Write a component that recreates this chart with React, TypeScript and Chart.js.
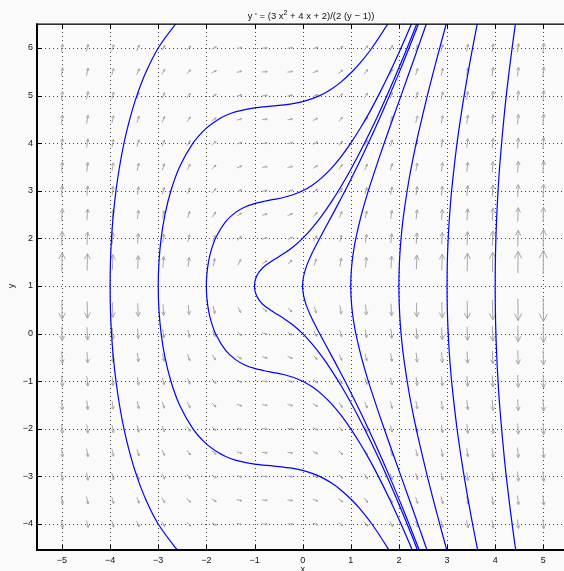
import React, { useEffect, useRef } from "react";
import { Chart, registerables } from "chart.js";
Chart.register(...registerables);

// axis ticks and ranges
const X_TICKS = [-5, -4, -3, -2, -1, 0, 1, 2, 3, 4, 5];
const Y_TICKS = [-4, -3, -2, -1, 0, 1, 2, 3, 4, 5, 6];
const X_MIN = -5.519;
const X_MAX = 5.43;
const Y_MIN = -4.546;
const Y_MAX = 6.504;

// direction-field grid (20 columns x 21 rows)
const FIELD_X = [-5, -4.474, -3.947, -3.421, -2.895, -2.368, -1.842, -1.316, -0.789, -0.263,
  0.263, 0.789, 1.316, 1.842, 2.368, 2.895, 3.421, 3.947, 4.474, 5];
const FIELD_Y = [-4, -3.5, -3, -2.5, -2, -1.5, -1, -0.5, 0, 0.5, 1, 1.5, 2, 2.5, 3, 3.5, 4, 4.5, 5, 5.5, 6];

// the equation in the title: y' = (3x^2 + 4x + 2) / (2 (y - 1))
const slope = (x: number, y: number) => (3 * x * x + 4 * x + 2) / (2 * (y - 1));

// solution curves: x positions and |y - 1| (each curve is symmetric about y = 1)
const CURVE_A_X = [-4, -3.993, -3.971, -3.933, -3.878, -3.805, -3.712, -3.593, -3.444, -3.252, -3.0, -2.641, -2.5];
const CURVE_A_H = [0, 0.5, 1, 1.5, 2, 2.5, 3, 3.5, 4, 4.5, 5, 5.5, 5.646];

const CURVE_B_X = [-3, -2.985, -2.94, -2.86, -2.737, -2.557, -2.278, -2, -1.754, -1.6, -1.4, -1, -0.6, -0.2, 0, 0.353, 0.6, 0.8, 1.027, 1.2, 1.439, 1.765, 1.9];
const CURVE_B_H = [0, 0.5, 1, 1.5, 2, 2.5, 3, 3.317, 3.5, 3.581, 3.657, 3.742, 3.782, 3.83, 3.873, 4, 4.14, 4.289, 4.5, 4.691, 5, 5.5, 5.734];

const CURVE_C_X = [-2, -1.99, -1.957, -1.9, -1.8, -1.6, -1.4, -1.2, -1, -0.8, -0.6, -0.4, -0.2, 0, 0.2, 0.4, 0.6, 0.8, 1, 1.2, 1.4, 1.6, 1.8, 2, 2.2, 2.4];
const CURVE_C_H = [0, 0.244, 0.5, 0.749, 1.024, 1.351, 1.541, 1.659, 1.732, 1.78, 1.818, 1.859, 1.916, 2, 2.118, 2.277, 2.477, 2.719, 3, 3.318, 3.669, 4.052, 4.462, 4.899, 5.36, 5.843];

const CURVE_D_X = [-1, -0.99, -0.975, -0.95, -0.9, -0.8, -0.6, -0.4, -0.2, 0, 0.2, 0.4, 0.6, 0.8, 1, 1.2, 1.4, 1.6, 1.8, 2, 2.2, 2.4];
const CURVE_D_H = [0, 0.0995, 0.155, 0.218, 0.302, 0.41, 0.551, 0.675, 0.82, 1, 1.22, 1.478, 1.771, 2.096, 2.449, 2.83, 3.235, 3.663, 4.112, 4.583, 5.072, 5.581];

const CURVE_E_X = [0, 0.005, 0.02, 0.05, 0.1, 0.2, 0.3, 0.4, 0.6, 0.8, 1, 1.2, 1.4, 1.6, 1.8, 2, 2.2, 2.4, 2.45];
const CURVE_E_H = [0, 0.1003, 0.202, 0.324, 0.47, 0.699, 0.898, 1.088, 1.462, 1.842, 2.236, 2.647, 3.076, 3.524, 3.989, 4.472, 4.973, 5.49, 5.622];

const CURVE_F_X = [1, 1.002, 1.01, 1.03, 1.06, 1.1, 1.2, 1.3, 1.4, 1.6, 1.8, 2, 2.2, 2.4, 2.6];
const CURVE_F_H = [0, 0.134, 0.301, 0.524, 0.747, 0.975, 1.417, 1.782, 2.113, 2.723, 3.303, 3.873, 4.442, 5.014, 5.594];

const CURVE_G_X = [2, 2.002, 2.01, 2.03, 2.06, 2.1, 2.2, 2.3, 2.4, 2.6, 2.8, 3.0];
const CURVE_G_H = [0, 0.21, 0.47, 0.817, 1.161, 1.51, 2.174, 2.711, 3.185, 4.037, 4.82, 5.568];

const CURVE_H_X = [3, 3.002, 3.01, 3.03, 3.06, 3.1, 3.2, 3.3, 3.4, 3.5, 3.6, 3.7];
const CURVE_H_H = [0, 0.286, 0.641, 1.113, 1.581, 2.052, 2.941, 3.649, 4.269, 4.835, 5.364, 5.868];

const CURVE_I_X = [4, 4.002, 4.01, 4.03, 4.06, 4.1, 4.2, 4.3, 4.4, 4.5];
const CURVE_I_H = [0, 0.363, 0.813, 1.412, 2.003, 2.596, 3.711, 4.592, 5.358, 6.052];

const CURVES: [number[], number[]][] = [
  [CURVE_A_X, CURVE_A_H], [CURVE_B_X, CURVE_B_H], [CURVE_C_X, CURVE_C_H],
  [CURVE_D_X, CURVE_D_H], [CURVE_E_X, CURVE_E_H], [CURVE_F_X, CURVE_F_H],
  [CURVE_G_X, CURVE_G_H], [CURVE_H_X, CURVE_H_H], [CURVE_I_X, CURVE_I_H],
];

const TITLE_A = "y ' = (3 x";
const TITLE_SUP = "2";
const TITLE_B = " + 4 x + 2)/(2 (y \u2212 1))";

const FONT = '"Liberation Sans", Arial, Helvetica, sans-serif';
const BG = "#fafafa";

function buildCurve(xs: number[], hs: number[]) {
  const pts: { x: number; y: number }[] = [];
  for (let i = xs.length - 1; i >= 1; i--) pts.push({ x: xs[i], y: 1 - hs[i] });
  pts.push({ x: xs[0], y: 1 });
  for (let i = 1; i < xs.length; i++) pts.push({ x: xs[i], y: 1 + hs[i] });
  return pts;
}

const fmt = (v: number) => (v < 0 ? "\u2212" + Math.abs(v) : String(v));

const decorPlugin = {
  id: "decor",
  beforeDraw(chart: any) {
    const ctx = chart.ctx;
    ctx.save();
    ctx.fillStyle = BG;
    ctx.fillRect(0, 0, chart.width, chart.height);
    ctx.restore();
  },
  beforeDatasetsDraw(chart: any) {
    const ctx = chart.ctx;
    const xs = chart.scales.x;
    const ys = chart.scales.y;
    const a = chart.chartArea;
    ctx.save();
    // dotted grid
    ctx.strokeStyle = "#444";
    ctx.lineWidth = 1;
    ctx.setLineDash([1, 3]);
    for (const t of X_TICKS) {
      const px = Math.round(xs.getPixelForValue(t)) + 0.5;
      ctx.beginPath();
      ctx.moveTo(px, a.top);
      ctx.lineTo(px, a.bottom);
      ctx.stroke();
    }
    for (const t of Y_TICKS) {
      const py = Math.round(ys.getPixelForValue(t)) + 0.5;
      ctx.beginPath();
      ctx.moveTo(a.left, py);
      ctx.lineTo(a.right, py);
      ctx.stroke();
    }
    ctx.setLineDash([]);
    // direction field arrows
    const sx = xs.getPixelForValue(1) - xs.getPixelForValue(0);
    const sy = ys.getPixelForValue(0) - ys.getPixelForValue(1);
    ctx.strokeStyle = "#a8a8a8";
    ctx.lineWidth = 1;
    for (const x of FIELD_X) {
      for (const y of FIELD_Y) {
        const f = slope(x, y);
        if (!isFinite(f)) continue;
        const L = 3 + 2.1 * Math.pow(1 + f * f, 0.25);
        let dx = sx;
        let dy = -f * sy;
        const n = Math.hypot(dx, dy);
        dx /= n;
        dy /= n;
        const cx = xs.getPixelForValue(x);
        const cy = ys.getPixelForValue(y);
        const tx = cx - (dx * L) / 2, ty = cy - (dy * L) / 2;
        const hx = cx + (dx * L) / 2, hy = cy + (dy * L) / 2;
        const bx = hx - dx * 0.33 * L, by = hy - dy * 0.33 * L;
        const w = 0.17 * L;
        ctx.beginPath();
        ctx.moveTo(tx, ty);
        ctx.lineTo(hx, hy);
        ctx.moveTo(bx - dy * w, by + dx * w);
        ctx.lineTo(hx, hy);
        ctx.lineTo(bx + dy * w, by - dx * w);
        ctx.stroke();
      }
    }
    ctx.restore();
  },
  afterDatasetsDraw(chart: any) {
    const ctx = chart.ctx;
    const xs = chart.scales.x;
    const ys = chart.scales.y;
    const a = chart.chartArea;
    ctx.save();
    // ticks (inward)
    ctx.strokeStyle = "#000";
    ctx.lineWidth = 1;
    for (const t of X_TICKS) {
      const px = Math.round(xs.getPixelForValue(t)) + 0.5;
      ctx.beginPath();
      ctx.moveTo(px, a.bottom);
      ctx.lineTo(px, a.bottom - 5);
      ctx.moveTo(px, a.top);
      ctx.lineTo(px, a.top + 5);
      ctx.stroke();
    }
    for (const t of Y_TICKS) {
      const py = Math.round(ys.getPixelForValue(t)) + 0.5;
      ctx.beginPath();
      ctx.moveTo(a.left, py);
      ctx.lineTo(a.left + 5, py);
      ctx.stroke();
    }
    // axes box (left, bottom, top)
    ctx.fillStyle = "#000";
    ctx.fillRect(a.left - 1, a.top - 0.5, 2, a.bottom - a.top + 1.5);
    ctx.fillRect(a.left - 1, a.bottom - 1, a.right - a.left + 1, 2);
    ctx.fillRect(a.left - 1, a.top - 0.5, a.right - a.left + 1, 1.3);
    // tick labels
    ctx.fillStyle = "#111";
    ctx.font = "9px " + FONT;
    ctx.textAlign = "center";
    ctx.textBaseline = "alphabetic";
    for (const t of X_TICKS) {
      ctx.fillText(fmt(t), xs.getPixelForValue(t), 563);
    }
    ctx.textAlign = "right";
    ctx.textBaseline = "middle";
    for (const t of Y_TICKS) {
      ctx.fillText(fmt(t), a.left - 4, ys.getPixelForValue(t));
    }
    // axis labels
    ctx.textAlign = "center";
    ctx.textBaseline = "top";
    ctx.fillText("x", xs.getPixelForValue(0), 565);
    ctx.save();
    ctx.translate(12, ys.getPixelForValue(1));
    ctx.rotate(-Math.PI / 2);
    ctx.textBaseline = "middle";
    ctx.fillText("y", 0, 0);
    ctx.restore();
    // title with superscript
    ctx.textAlign = "left";
    ctx.textBaseline = "alphabetic";
    const mainFont = "9.5px " + FONT;
    const supFont = "7px " + FONT;
    ctx.font = mainFont;
    const wa = ctx.measureText(TITLE_A).width;
    const wb = ctx.measureText(TITLE_B).width;
    ctx.font = supFont;
    const ws = ctx.measureText(TITLE_SUP).width;
    const total = wa + ws + wb;
    let x0 = 311 - total / 2;
    ctx.font = mainFont;
    ctx.fillText(TITLE_A, x0, 18.5);
    ctx.font = supFont;
    ctx.fillText(TITLE_SUP, x0 + wa, 15);
    ctx.font = mainFont;
    ctx.fillText(TITLE_B, x0 + wa + ws, 18.5);
    ctx.restore();
  },
};

export default function App() {
  const ref = useRef<HTMLCanvasElement | null>(null);
  useEffect(() => {
    if (!ref.current) return;
    const datasets = CURVES.map(([xs, hs]) => ({
      data: buildCurve(xs, hs),
      showLine: true,
      pointRadius: 0,
      borderColor: "#0000ff",
      borderWidth: 1.2,
      tension: 0.3,
      fill: false,
    }));
    const chart = new Chart(ref.current, {
      type: "scatter",
      data: { datasets },
      options: {
        animation: false,
        responsive: false,
        maintainAspectRatio: false,
        devicePixelRatio: 1,
        events: [],
        layout: { padding: { left: 37, top: 24, right: 0, bottom: 21 } },
        scales: {
          x: { type: "linear", min: X_MIN, max: X_MAX, display: false },
          y: { type: "linear", min: Y_MIN, max: Y_MAX, display: false },
        },
        plugins: {
          legend: { display: false },
          tooltip: { enabled: false },
          title: { display: false },
        },
      },
      plugins: [decorPlugin],
    } as any);
    return () => chart.destroy();
  }, []);
  return (
    <canvas
      ref={ref}
      width={564}
      height={571}
      style={{ position: "fixed", left: 0, top: 0, width: 564, height: 571, display: "block" }}
    />
  );
}
